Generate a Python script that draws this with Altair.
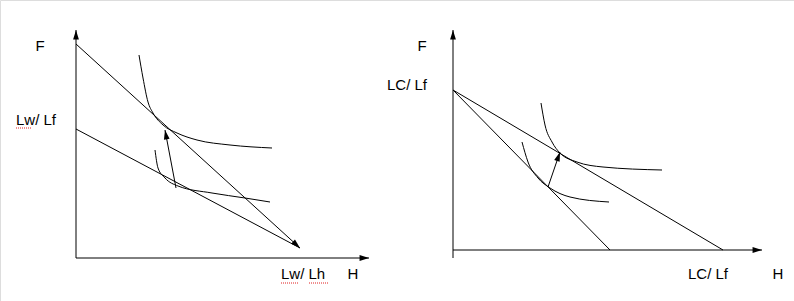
import altair as alt
import pandas as pd
import numpy as np

# ---- diagram data (page pixel units) ----
# left panel
L_yaxis_x = [76, 76];   L_yaxis_y = [258, 30]
L_xaxis_x = [76, 369];  L_xaxis_y = [258, 258]
L_steep_x = [76, 300];  L_steep_y = [44, 248]
L_shallow_x = [76, 300]; L_shallow_y = [129, 248]
L_ic_up_x = [139, 143, 148, 153, 163, 177, 197, 230, 272]
L_ic_up_y = [55, 78, 102, 113, 125, 133, 140, 145, 148]
L_ic_lo_x = [155, 158, 165, 178, 212, 245, 270]
L_ic_lo_y = [150, 168, 178, 186, 193, 198, 202]
L_arrow_x = [176, 165]; L_arrow_y = [188, 130]

# right panel
R_yaxis_x = [453, 453]; R_yaxis_y = [258, 30]
R_xaxis_x = [453, 762]; R_xaxis_y = [250, 250]
R_steep_x = [453, 610]; R_steep_y = [90, 250]
R_shallow_x = [453, 723]; R_shallow_y = [90, 250]
R_ic_up_x = [541, 545, 552, 560, 577, 603, 662]
R_ic_up_y = [103, 125, 142, 153, 162, 167, 170]
R_ic_lo_x = [522, 528, 538, 550, 570, 609]
R_ic_lo_y = [142, 162, 178, 188, 197, 202]
R_arrow_x = [548, 560]; R_arrow_y = [187, 152]

label_text = ["F", "Lw/ Lf", "Lw/ Lh", "H", "F", "LC/ Lf", "LC/ Lf", "H"]
label_x = [40, 16, 281, 353, 422, 387, 688, 778]
label_y = [51, 125, 279, 279, 51, 90, 279, 279]
label_align = ["center", "left", "left", "center", "center", "left", "left", "center"]

squiggle_x = [16, 281, 309]
squiggle_x2 = [32, 298, 328]
squiggle_y = [128, 283, 283]

W, H = 794, 301

straight = {
    "L_yaxis": (L_yaxis_x, L_yaxis_y, True),
    "L_xaxis": (L_xaxis_x, L_xaxis_y, True),
    "L_steep": (L_steep_x, L_steep_y, True),
    "L_shallow": (L_shallow_x, L_shallow_y, False),
    "L_arrow": (L_arrow_x, L_arrow_y, True),
    "R_yaxis": (R_yaxis_x, R_yaxis_y, True),
    "R_xaxis": (R_xaxis_x, R_xaxis_y, True),
    "R_steep": (R_steep_x, R_steep_y, False),
    "R_shallow": (R_shallow_x, R_shallow_y, False),
    "R_arrow": (R_arrow_x, R_arrow_y, True),
}
curves = {
    "L_ic_up": (L_ic_up_x, L_ic_up_y),
    "L_ic_lo": (L_ic_lo_x, L_ic_lo_y),
    "R_ic_up": (R_ic_up_x, R_ic_up_y),
    "R_ic_lo": (R_ic_lo_x, R_ic_lo_y),
}

rows, heads = [], []
for name, (xs, ys, head) in straight.items():
    for i, (x, y) in enumerate(zip(xs, ys)):
        rows.append({"id": name, "o": i, "x": x, "y": y})
    if head:
        dx, dy = xs[-1] - xs[-2], ys[-1] - ys[-2]
        heads.append({"x": xs[-1], "y": ys[-1],
                      "angle": float(np.degrees(np.arctan2(dx, -dy))) % 360})
seg_df = pd.DataFrame(rows)
head_df = pd.DataFrame(heads)

crows = []
for name, (xs, ys) in curves.items():
    for i, (x, y) in enumerate(zip(xs, ys)):
        crows.append({"id": name, "o": i, "x": x, "y": y})
curve_df = pd.DataFrame(crows)

lab_df = pd.DataFrame({"t": label_text, "x": label_x, "y": label_y, "a": label_align})
sq_df = pd.DataFrame({"x": squiggle_x, "x2": squiggle_x2, "y": squiggle_y})

xs = alt.Scale(domain=[0, W], nice=False, zero=False)
ys = alt.Scale(domain=[0, H], nice=False, zero=False, reverse=True)
X = lambda f="x": alt.X(f"{f}:Q", scale=xs, axis=None)
Y = lambda f="y": alt.Y(f"{f}:Q", scale=ys, axis=None)

segs = alt.Chart(seg_df).mark_line(color="black", strokeWidth=1).encode(
    x=X(), y=Y(), detail="id:N", order="o:Q")
curvs = alt.Chart(curve_df).mark_line(color="black", strokeWidth=1,
                                      interpolate="monotone").encode(
    x=X(), y=Y(), detail="id:N", order="o:Q")
arrowheads = alt.Chart(head_df).mark_point(
    shape="M0,0L-0.55,1.8L0.55,1.8Z", filled=True, color="black",
    opacity=1, size=110, strokeWidth=0).encode(
    x=X(), y=Y(), angle=alt.Angle("angle:Q", scale=None))

layers = [segs, curvs, arrowheads]
for al in ["left", "center"]:
    layers.append(alt.Chart(lab_df).transform_filter(alt.datum.a == al).mark_text(
        font="Liberation Sans", fontSize=15, color="black", align=al,
        baseline="alphabetic").encode(x=X(), y=Y(), text="t:N"))
squig = alt.Chart(sq_df).mark_rule(color="#e02020", strokeWidth=1,
                                   strokeDash=[1, 1]).encode(
    x=X(), x2="x2:Q", y=Y())
layers.append(squig)

chart = alt.layer(*layers).properties(
    width=W, height=H, autosize=alt.AutoSizeParams(type="none"), padding=0
).configure_view(stroke=None).configure(background="white")

chart.save("out.html", embed_options={"renderer": "svg", "actions": False})
